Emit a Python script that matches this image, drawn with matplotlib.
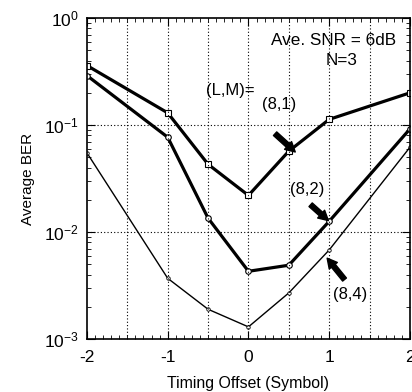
import matplotlib
matplotlib.use("Agg")
import matplotlib.pyplot as plt
from matplotlib.ticker import MultipleLocator, LogLocator, NullFormatter, FixedLocator

plt.rcParams['font.family'] = ['Liberation Sans', 'DejaVu Sans']
plt.rcParams['mathtext.fontset'] = 'custom'
plt.rcParams['mathtext.rm'] = 'Liberation Sans'
plt.rcParams['mathtext.it'] = 'Liberation Sans'
plt.rcParams['axes.unicode_minus'] = False

offset = [-2, -1, -0.5, 0, 0.5, 1, 2]
ber_81 = [0.36, 0.13, 0.043, 0.022, 0.057, 0.113, 0.20]
ber_82 = [0.29, 0.077, 0.0135, 0.0043, 0.0049, 0.0126, 0.092]
ber_84 = [0.055, 0.0037, 0.0019, 0.0013, 0.0027, 0.0068, 0.062]

fig = plt.figure(figsize=(4.12, 3.92), dpi=100)
ax = fig.add_axes([0.211, 0.135, 0.784, 0.819])

ax.semilogy(offset, ber_81, 'k-', lw=2.3, marker='s', ms=4, mfc='white', mew=0.8)
ax.semilogy(offset, ber_82, 'k-', lw=2.3, marker='o', ms=4, mfc='white', mew=0.8)
ax.semilogy(offset, ber_84, 'k-', lw=1.0, marker='o', ms=2.5, mfc='white', mew=0.6)

ax.set_xlim(-2, 2)
ax.set_ylim(1e-3, 1)

ax.xaxis.set_major_locator(FixedLocator([-2, -1, 0, 1, 2]))
ax.xaxis.set_minor_locator(MultipleLocator(0.1))
ax.yaxis.set_major_locator(LogLocator(base=10))
ax.yaxis.set_minor_locator(LogLocator(base=10, subs=range(2, 10)))
ax.yaxis.set_minor_formatter(NullFormatter())

for xg in [-1.5, -1, -0.5, 0, 0.5, 1, 1.5]:
    ax.axvline(xg, color='k', ls=(0, (1, 2)), lw=0.8)
for yg in [1e-2, 1e-1]:
    ax.axhline(yg, color='k', ls=(0, (1, 2)), lw=0.8)

ax.tick_params(which='both', direction='in', top=True, right=True, labelsize=12.5)
ax.tick_params(which='major', length=6)
ax.tick_params(which='minor', length=3)
ax.tick_params(axis='x', pad=8)
ax.tick_params(axis='y', pad=6)
for s in ax.spines.values():
    s.set_linewidth(1.2)

ax.set_xlabel('Timing Offset (Symbol)', fontsize=11.4, labelpad=8)
ax.set_ylabel('Average BER', fontsize=11, labelpad=6)

ax.text(1.05, 0.62, 'Ave. SNR = 6dB', fontsize=12.3, ha='center', va='center')
ax.text(1.15, 0.40, 'N=3', fontsize=12.3, ha='center', va='center')
ax.text(-0.22, 0.21, '(L,M)=', fontsize=12, ha='center', va='center')

arrow = dict(arrowstyle='simple,head_width=0.75,head_length=0.7,tail_width=0.35',
             color='k', shrinkA=0, shrinkB=0)
ax.text(0.38, 0.154, '(8,1)', fontsize=12, ha='center', va='center')
ax.annotate('', xy=(0.58, 0.056), xytext=(0.33, 0.083), arrowprops=arrow)
ax.text(0.73, 0.025, '(8,2)', fontsize=12, ha='center', va='center')
ax.annotate('', xy=(0.99, 0.0128), xytext=(0.77, 0.018), arrowprops=arrow)
ax.text(1.26, 0.0026, '(8,4)', fontsize=12, ha='center', va='center')
ax.annotate('', xy=(0.975, 0.0057), xytext=(1.19, 0.0036), arrowprops=arrow)

fig.savefig('out.png', dpi=100)
